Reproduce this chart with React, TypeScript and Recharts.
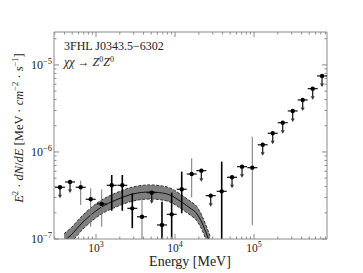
import React from 'react';
import { ComposedChart, XAxis, YAxis, Scatter, ErrorBar, Line, Area } from 'recharts';

// ---- data ----
const energy = [350, 469, 640, 857, 1181, 1581, 2153, 2880, 3820, 5070, 6840, 9070, 12160, 16260, 21530, 28310, 38990, 52700, 70500, 95100, 128800, 172500, 230800, 309000, 413300, 553000, 726000];
const flux = [3.93e-7, 4.52e-7, 3.93e-7, 2.86e-7, 2.53e-7, 4.14e-7, 4.14e-7, 2.25e-7, 1.8e-7, 3.41e-7, 1.45e-7, 1.92e-7, 3.73e-7, 5.58e-7, 6.1e-7, 3.15e-7, 3.53e-7, 5.12e-7, 6.78e-7, 6.6e-7, 1.21e-6, 1.64e-6, 2.17e-6, 2.96e-6, 3.96e-6, 5.34e-6, 7.48e-6];
const pointKind = ['ul', 'ul', 'grey', 'grey', 'grey', 'black', 'black', 'black', 'grey', 'ul', 'black', 'black', 'black', 'grey', 'ul', 'ul', 'black', 'ul', 'ul', 'grey', 'ul', 'ul', 'ul', 'ul', 'ul', 'ul', 'ul'];
const fluxLow = [null, null, 2.46e-7, 1.38e-7, 1.38e-7, 2.11e-7, 2.11e-7, 1.33e-7, 1e-7, null, 1e-7, 1e-7, 1.97e-7, 3.01e-7, null, null, 1e-7, null, null, 1.45e-7, null, null, null, null, null, null, null];
const fluxHigh = [null, null, 4.68e-7, 3.83e-7, 3.73e-7, 5.44e-7, 5.44e-7, 3.35e-7, 3.06e-7, null, 2.68e-7, 3.41e-7, 5.94e-7, 8.47e-7, null, null, 7.74e-7, null, null, 1.5e-6, null, null, null, null, null, null, null];

const curveEnergy = [394, 469, 684, 1124, 1845, 2940, 4830, 7930, 12620, 15490, 18980, 21980, 25400, 27730];
const curveFlux = [9.48e-8, 1.083e-7, 1.567e-7, 2.27e-7, 2.84e-7, 3.29e-7, 3.47e-7, 3.29e-7, 2.59e-7, 2.27e-7, 1.94e-7, 1.53e-7, 1.11e-7, 9.0e-8];
const curveUpper = [1.15e-7, 1.31e-7, 1.89e-7, 2.73e-7, 3.42e-7, 3.96e-7, 4.18e-7, 3.96e-7, 3.12e-7, 2.73e-7, 2.34e-7, 1.84e-7, 1.34e-7, 1.08e-7];
const curveLower = [7.8e-8, 8.9e-8, 1.3e-7, 1.89e-7, 2.36e-7, 2.73e-7, 2.88e-7, 2.73e-7, 2.15e-7, 1.89e-7, 1.61e-7, 1.27e-7, 9.2e-8, 7.5e-8];

const xTicks = [300, 400, 500, 600, 700, 800, 900, 1000, 2000, 3000, 4000, 5000, 6000, 7000, 8000, 9000, 10000, 20000, 30000, 40000, 50000, 60000, 70000, 80000, 90000, 100000, 200000, 300000, 400000, 500000, 600000, 700000, 800000];
const yTicks = [1e-7, 2e-7, 3e-7, 4e-7, 5e-7, 6e-7, 7e-7, 8e-7, 9e-7, 1e-6, 2e-6, 3e-6, 4e-6, 5e-6, 6e-6, 7e-6, 8e-6, 9e-6, 1e-5, 2e-5];
const xDomain = [294, 839000];
const yDomain = [1e-7, 2.39e-5];

// ---- tables built from the arrays ----
const points = energy.map((x, i) => ({
  x,
  y: flux[i],
  kind: pointKind[i],
  err: fluxLow[i] == null ? undefined : [flux[i] - (fluxLow[i] as number), (fluxHigh[i] as number) - flux[i]],
}));
const ulPoints = points.filter((p) => p.kind === 'ul');
const blackPoints = points.filter((p) => p.kind === 'black');
const greyPoints = points.filter((p) => p.kind === 'grey');
const curve = curveEnergy.map((x, i) => ({ x, mid: curveFlux[i], up: curveUpper[i], lo: curveLower[i], band: [curveLower[i], curveUpper[i]] }));

const FRAME = '#8a8a8a';
const SERIF = '"Liberation Serif", "Times New Roman", serif';

const isDecade = (v: number) => Math.abs(Math.log10(v) - Math.round(Math.log10(v))) < 1e-6;

const BottomTick = (props: any) => {
  const { x, y, payload } = props;
  const v = payload.value;
  const major = isDecade(v);
  return (
    <g>
      <line x1={x} x2={x} y1={y} y2={y - (major ? 5 : 2.5)} stroke={FRAME} strokeWidth={1} />
      {major && (
        <text x={x} y={y + 13} textAnchor="middle" fontFamily={SERIF} fontSize={11.5} fill="#222">
          10<tspan dy={-5} fontSize={8}>{Math.round(Math.log10(v))}</tspan>
        </text>
      )}
    </g>
  );
};
const TopTick = (props: any) => {
  const { x, y, payload } = props;
  const major = isDecade(payload.value);
  return <line x1={x} x2={x} y1={y} y2={y + (major ? 5 : 2.5)} stroke={FRAME} strokeWidth={1} />;
};
const LeftTick = (props: any) => {
  const { x, y, payload } = props;
  const v = payload.value;
  const major = isDecade(v);
  return (
    <g>
      <line x1={x} x2={x + (major ? 5 : 2.5)} y1={y} y2={y} stroke={FRAME} strokeWidth={1} />
      {major && (
        <text x={x - 2} y={y + 4} textAnchor="end" fontFamily={SERIF} fontSize={12} fill="#222">
          10<tspan dy={-5} fontSize={8.5}>{'\u2212' + Math.abs(Math.round(Math.log10(v)))}</tspan>
        </text>
      )}
    </g>
  );
};
const RightTick = (props: any) => {
  const { x, y, payload } = props;
  const major = isDecade(payload.value);
  return <line x1={x} x2={x - (major ? 5 : 2.5)} y1={y} y2={y} stroke={FRAME} strokeWidth={1} />;
};

const PointShape = (props: any) => {
  const { cx, cy } = props;
  if (cx == null || cy == null) return null;
  return (
    <g>
      <line x1={cx - 5} x2={cx + 5} y1={cy} y2={cy} stroke="#111" strokeWidth={1.2} />
      <circle cx={cx} cy={cy} r={2.2} fill="#000" />
    </g>
  );
};
const UpperLimitShape = (props: any) => {
  const { cx, cy } = props;
  if (cx == null || cy == null) return null;
  return (
    <g>
      <line x1={cx - 5} x2={cx + 5} y1={cy} y2={cy} stroke="#111" strokeWidth={1.2} />
      <line x1={cx} x2={cx} y1={cy} y2={cy + 8} stroke="#111" strokeWidth={1.2} />
      <polygon points={`${cx - 2},${cy + 7.5} ${cx + 2},${cy + 7.5} ${cx},${cy + 11}`} fill="#333" />
      <circle cx={cx} cy={cy} r={2.2} fill="#000" />
    </g>
  );
};

export default function App() {
  return (
    <div style={{ position: 'absolute', left: 0, top: 0, width: 363, height: 273, background: '#fff' }}>
      <ComposedChart width={363} height={273} margin={{ top: 31, right: 35, bottom: 0, left: 0 }}>
        <XAxis
          xAxisId="b"
          dataKey="x"
          type="number"
          scale="log"
          domain={xDomain}
          allowDataOverflow
          ticks={xTicks}
          interval={0}
          tick={<BottomTick />}
          tickLine={false}
          tickSize={0}
          tickMargin={0}
          axisLine={{ stroke: FRAME }}
          height={34}
          orientation="bottom"
        />
        <XAxis
          xAxisId="t"
          dataKey="x"
          type="number"
          scale="log"
          domain={xDomain}
          allowDataOverflow
          ticks={xTicks}
          interval={0}
          tick={<TopTick />}
          tickLine={false}
          tickSize={0}
          tickMargin={0}
          axisLine={{ stroke: FRAME }}
          height={1}
          orientation="top"
        />
        <YAxis
          yAxisId="l"
          type="number"
          scale="log"
          domain={yDomain}
          allowDataOverflow
          ticks={yTicks}
          interval={0}
          tick={<LeftTick />}
          tickLine={false}
          tickSize={0}
          tickMargin={0}
          axisLine={{ stroke: FRAME }}
          width={54}
          orientation="left"
        />
        <YAxis
          yAxisId="r"
          type="number"
          scale="log"
          domain={yDomain}
          allowDataOverflow
          ticks={yTicks}
          interval={0}
          tick={<RightTick />}
          tickLine={false}
          tickSize={0}
          tickMargin={0}
          axisLine={{ stroke: FRAME }}
          width={1}
          orientation="right"
        />
        <Area xAxisId="b" yAxisId="l" data={curve} dataKey="band" type="monotone" fill="#7f7f7f" fillOpacity={1} stroke="none" isAnimationActive={false} />
        <Line xAxisId="b" yAxisId="l" data={curve} dataKey="up" type="monotone" stroke="#333" strokeWidth={1} strokeDasharray="3 1.5" dot={false} isAnimationActive={false} />
        <Line xAxisId="b" yAxisId="l" data={curve} dataKey="lo" type="monotone" stroke="#333" strokeWidth={1} strokeDasharray="3 1.5" dot={false} isAnimationActive={false} />
        <Line xAxisId="b" yAxisId="l" data={curve} dataKey="mid" type="monotone" stroke="#111" strokeWidth={1} dot={false} isAnimationActive={false} />
        <Scatter xAxisId="b" yAxisId="l" data={greyPoints} dataKey="y" shape={<PointShape />} isAnimationActive={false}>
          <ErrorBar dataKey="err" direction="y" width={0} stroke="#777" strokeWidth={1} />
        </Scatter>
        <Scatter xAxisId="b" yAxisId="l" data={blackPoints} dataKey="y" shape={<PointShape />} isAnimationActive={false}>
          <ErrorBar dataKey="err" direction="y" width={0} stroke="#000" strokeWidth={1.6} />
        </Scatter>
        <Scatter xAxisId="b" yAxisId="l" data={ulPoints} dataKey="y" shape={<UpperLimitShape />} isAnimationActive={false} />
      </ComposedChart>
      <svg width={363} height={273} style={{ position: 'absolute', left: 0, top: 0, pointerEvents: 'none' }}>
        <text x={64} y={50} fontFamily={SERIF} fontSize={12} fill="#222">3FHL J0343.5−6302</text>
        <text x={64} y={66} fontFamily={SERIF} fontSize={12} fill="#222">
          <tspan fontStyle="italic">χχ</tspan> → <tspan fontStyle="italic">Z</tspan>
          <tspan dy={-4} fontSize={8}>0</tspan>
          <tspan dy={4} fontStyle="italic">Z</tspan>
          <tspan dy={-4} fontSize={8}>0</tspan>
        </text>
        <text x={190} y={266} textAnchor="middle" fontFamily={SERIF} fontSize={14} fill="#222">Energy [MeV]</text>
        <text x={23} y={128} transform="rotate(-90, 23, 128)" textAnchor="middle" fontFamily={SERIF} fontSize={12.5} fill="#222">
          <tspan fontStyle="italic">E</tspan>
          <tspan dy={-5} fontSize={8.5}>2</tspan>
          <tspan dy={5}> · </tspan>
          <tspan fontStyle="italic">dN</tspan>/<tspan fontStyle="italic">dE</tspan> [MeV · <tspan fontStyle="italic">cm</tspan>
          <tspan dy={-5} fontSize={8.5}>−2</tspan>
          <tspan dy={5}> · </tspan>
          <tspan fontStyle="italic">s</tspan>
          <tspan dy={-5} fontSize={8.5}>−1</tspan>
          <tspan dy={5}>]</tspan>
        </text>
      </svg>
    </div>
  );
}
